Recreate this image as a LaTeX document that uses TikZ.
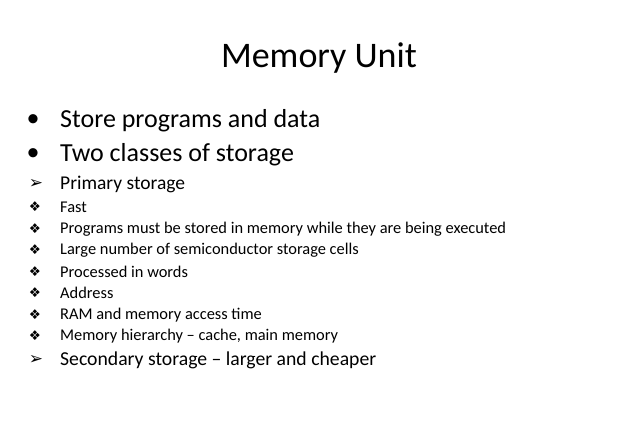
\documentclass[tikz,border=0pt]{standalone}
\usepackage{fontspec}
\setmainfont{Carlito}
\newfontfamily\symf{DejaVu Sans}
\begin{document}
\begin{tikzpicture}[x=1pt,y=1pt,
  txt/.style={anchor=west,inner sep=0pt},
  sym/.style={anchor=center,inner sep=0pt}]
\useasboundingbox (0,0) rectangle (638,-442);
\node[inner sep=0pt] (title) at (319,-58) {\fontsize{36}{40}\selectfont Memory Unit};
\node[sym] (b1) at (33,-121) {\fontsize{26}{30}\selectfont •};
\node[txt] (t1) at (60,-121) {\fontsize{26}{30}\selectfont Store programs and data};
\node[sym] (b2) at (33,-155) {\fontsize{26}{30}\selectfont •};
\node[txt] (t2) at (60,-155) {\fontsize{26}{30}\selectfont Two classes of storage};
\node[sym] (b3) at (36,-184) {\fontsize{17}{19}\selectfont\symf ➢};
\node[txt] (t3) at (60,-184) {\fontsize{19.5}{22}\selectfont Primary storage};
\foreach \y/\s [count=\i] in {-207/Fast,
  -229/Programs must be stored in memory while they are being executed,
  -250/Large number of semiconductor storage cells,
  -272/Processed in words,
  -293/Address,
  -315/RAM and memory access time,
  -336/{Memory hierarchy -- cache, main memory}}{
  \node[sym] (d\i) at (35,\y) {\fontsize{13.5}{15}\selectfont\symf ❖};
  \node[txt] (s\i) at (60,\y) {\fontsize{16.4}{19}\selectfont \s};
}
\node[sym] (b4) at (36,-360) {\fontsize{17}{19}\selectfont\symf ➢};
\node[txt] (t4) at (60,-360) {\fontsize{19.7}{23}\selectfont Secondary storage -- larger and cheaper};
\end{tikzpicture}
\end{document}
